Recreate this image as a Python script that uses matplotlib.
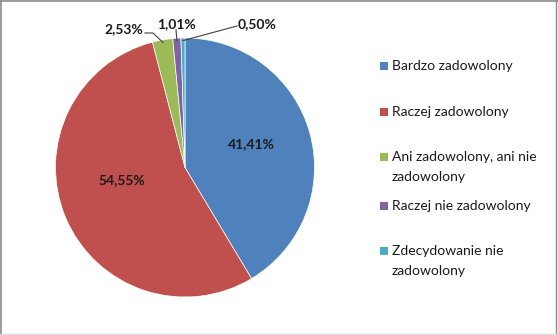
import matplotlib
matplotlib.use("Agg")
import matplotlib.pyplot as plt
from matplotlib.patches import Rectangle
from matplotlib.lines import Line2D
import numpy as np

categories = ["Bardzo zadowolony", "Raczej zadowolony",
              "Ani zadowolony, ani nie\nzadowolony", "Raczej nie zadowolony",
              "Zdecydowanie nie\nzadowolony"]
values = [41.41, 54.55, 2.53, 1.01, 0.50]
value_labels = ["41,41%", "54,55%", "2,53%", "1,01%", "0,50%"]
colors = ["#4F81BD", "#C0504D", "#9BBB59", "#8064A2", "#4BACC6"]

plt.rcParams['font.family'] = ['Lato', 'DejaVu Sans']

W, H = 558, 335
fig = plt.figure(figsize=(W/100, H/100), dpi=100)
ax = fig.add_axes([0, 0, 1, 1])

cx, cy, R = 185, H - 167.5, 129.5
wedges, _ = ax.pie(values, colors=colors, startangle=90, counterclock=False,
                   center=(cx, cy), radius=R, frame=True,
                   wedgeprops=dict(linewidth=0.5, edgecolor='white'))
ax.set_xlim(0, W)
ax.set_ylim(0, H)
ax.set_aspect('equal')
ax.axis('off')

TXT = '#1a1a1a'
# inside labels
inside_pos = {0: (251, H - 144), 1: (122, H - 180)}
for i, (x, y) in inside_pos.items():
    ax.text(x, y, value_labels[i], ha='center', va='center', fontsize=10,
            fontweight='bold', color=TXT)

# outside labels with leader lines
out_text = {2: (124, H - 29), 3: (176, H - 24), 4: (257, H - 24)}
for i, (tx, ty) in out_text.items():
    w = wedges[i]
    ang = np.deg2rad((w.theta1 + w.theta2) / 2)
    px, py = cx + R * 0.98 * np.cos(ang), cy + R * 0.98 * np.sin(ang)
    ax.text(tx, ty, value_labels[i], ha='center', va='center', fontsize=10,
            fontweight='bold', color=TXT)
    if i == 2:
        pts = [(tx + 21, ty - 4), (tx + 29, ty - 4), (px, py)]
    elif i == 3:
        pts = [(tx, ty - 6), (px, py)]
    else:
        pts = [(tx - 20, ty - 2), (px, py)]
    xs, ys = zip(*pts)
    ax.add_line(Line2D(xs, ys, color='#404040', lw=0.8))

# legend (manual)
leg_rows = [66, 112, 157, 206, 251]
for i, y in enumerate(leg_rows):
    ax.add_patch(Rectangle((380, H - y - 4), 8, 8, facecolor=colors[i],
                           edgecolor='none'))
    for k, line in enumerate(categories[i].split('\n')):
        ax.text(392, H - (y + 20 * k), line, ha='left', va='center',
                fontsize=10, color=TXT)

# figure border
fig.add_artist(Line2D([0.5/W, 0.5/W], [0, 1], color='#8a8a8a', lw=1.2, transform=fig.transFigure))
fig.add_artist(Line2D([0, 1], [1 - 0.5/H, 1 - 0.5/H], color='#8a8a8a', lw=1.2, transform=fig.transFigure))
fig.add_artist(Line2D([1 - 2.5/W, 1 - 2.5/W], [0, 1], color='#8a8a8a', lw=1.0, transform=fig.transFigure))
fig.add_artist(Line2D([0, 1], [1.5/H, 1.5/H], color='#d9d9d9', lw=1.0, transform=fig.transFigure))

fig.savefig("out.png", dpi=100, facecolor='white')
